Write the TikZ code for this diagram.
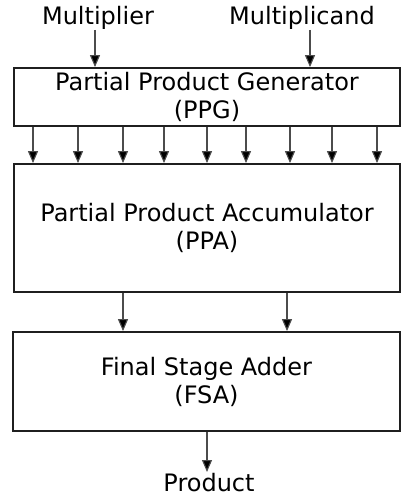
\documentclass[tikz,border=0pt]{standalone}
\usepackage{fontspec}
\setmainfont{DejaVu Sans}
\usetikzlibrary{arrows.meta}
\begin{document}
\begin{tikzpicture}[x=1pt,y=-1pt,
  blk/.style={draw=black!88,line width=1.8pt,inner sep=0pt,align=center,
    font=\fontsize{24}{28}\selectfont},
  lbl/.style={font=\fontsize{24}{28}\selectfont,inner sep=0pt,anchor=base},
  arr/.style={draw=black!70,line width=1.1pt,-{Triangle[length=12pt,width=10pt,fill=black]}}]
\useasboundingbox (0,0) rectangle (401,497);
\node[blk,minimum width=386pt,minimum height=58pt] (ppg) at (207,97) {Partial Product Generator\\(PPG)};
\node[blk,minimum width=386pt,minimum height=128pt] (ppa) at (207,228) {Partial Product Accumulator\\(PPA)};
\node[blk,minimum width=387pt,minimum height=99pt] (fsa) at (206.5,381.5) {Final Stage Adder\\(FSA)};
\node[lbl] (mlr) at (98,25) {Multiplier};
\node[lbl] (mcd) at (302,25) {Multiplicand};
\node[lbl] (prod) at (209,491) {Product};
\coordinate (a1) at (95,30);
\coordinate (a2) at (310,30);
\draw[arr] (a1) -- (ppg.north -| a1);
\draw[arr] (a2) -- (ppg.north -| a2);
\foreach \x [count=\i] in {33,78,123,164,207,246,290,332,377}{
  \coordinate (c\i) at (\x,0);
  \draw[arr] (ppg.south -| c\i) -- (ppa.north -| c\i);
}
\coordinate (d1) at (123,0);
\coordinate (d2) at (287,0);
\draw[arr] (ppa.south -| d1) -- (fsa.north -| d1);
\draw[arr] (ppa.south -| d2) -- (fsa.north -| d2);
\coordinate (e1) at (207,472);
\draw[arr] (fsa.south -| e1) -- (e1);
\end{tikzpicture}
\end{document}
